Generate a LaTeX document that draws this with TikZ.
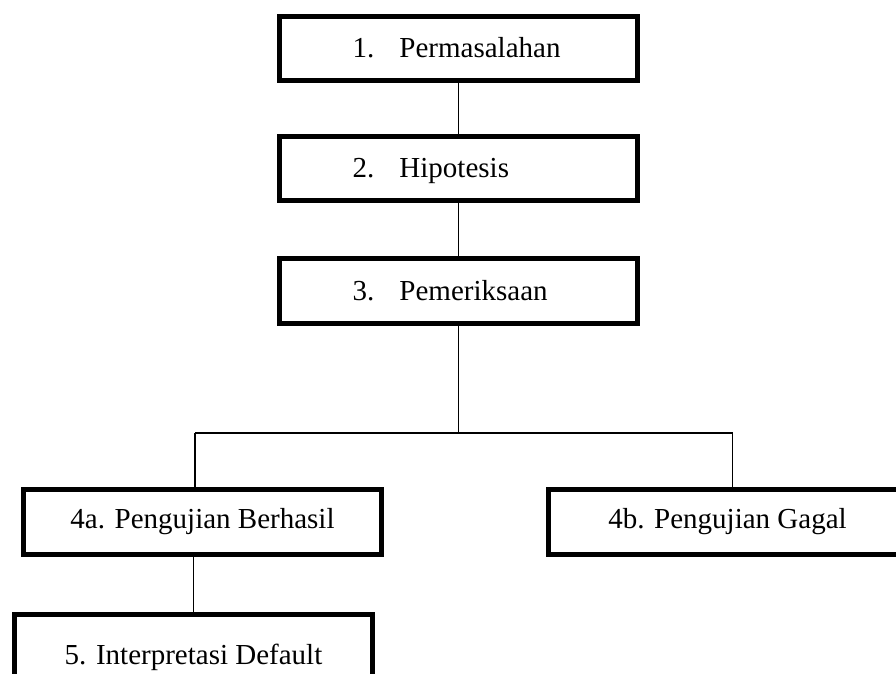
\documentclass[tikz,border=0pt]{standalone}
\usepackage{fontspec}
\setmainfont{Liberation Serif}
\begin{document}
\begin{tikzpicture}[x=1pt,y=-1pt,
  box/.style={draw=black, line width=5pt, fill=white, minimum width=358pt, minimum height=65pt, inner sep=0pt,
    font=\fontsize{29}{34}\selectfont},
  topbox/.style={box, text height=24pt, text depth=6pt},
  lowbox/.style={box, text height=20pt, text depth=8pt},
  conn/.style={draw=black, line width=1.6pt}]
\useasboundingbox (0,0) rectangle (896,673);
\clip (0,0) rectangle (896,673);
\node[topbox, minimum height=64pt] (p1) at (458.5,48.5) {\makebox[353pt][l]{\hspace{70.5pt}\makebox[47pt][l]{1.}Permasalahan}};
\node[topbox, minimum height=64pt] (p2) at (458.5,168.5) {\makebox[353pt][l]{\hspace{70.5pt}\makebox[47pt][l]{2.}Hipotesis}};
\node[topbox] (p3) at (458.5,291) {\makebox[353pt][l]{\hspace{70.5pt}\makebox[47pt][l]{3.}Pemeriksaan}};
\node[lowbox] (a4) at (202.5,522) {4a. Pengujian Berhasil};
\node[lowbox] (b4) at (727.5,522) {4b. Pengujian Gagal};
\node[box, text height=40pt, text depth=6pt] (c5) at (193.5,647) {5. Interpretasi Default};
\coordinate (jm) at (458.5,433);
\coordinate (jl) at (195,433);
\coordinate (jr) at (732.5,433);
\draw[conn] (p1.south) -- (p2.north);
\draw[conn] (p2.south) -- (p3.north);
\draw[conn] (p3.south) -- (jm);
\draw[conn] (jl) -- (jr);
\draw[conn] (jl) -- (jl |- a4.north);
\draw[conn] (jr) -- (jr |- b4.north);
\draw[conn] (a4.south -| c5.north) -- (c5.north);
\end{tikzpicture}
\end{document}
